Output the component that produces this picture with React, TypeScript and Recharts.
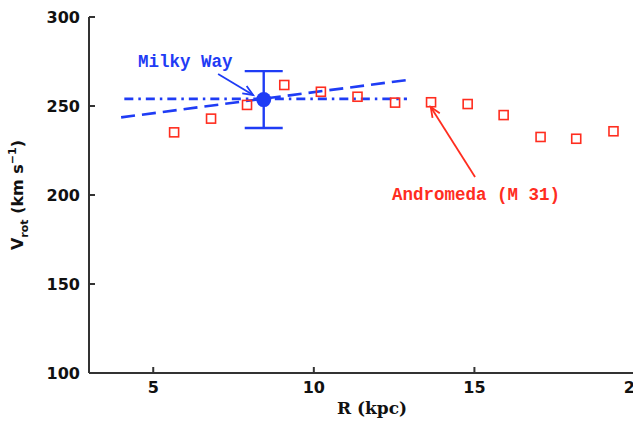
import React from 'react';
import {
  ComposedChart,
  Scatter,
  XAxis,
  YAxis,
  ErrorBar,
  ReferenceLine,
  ReferenceDot,
  Label,
} from 'recharts';

// Andromeda (M 31) rotation curve
const m31R = [5.65, 6.8, 7.92, 9.08, 10.22, 11.36, 12.53, 13.65, 14.79, 15.91, 17.06, 18.17, 19.33];
const m31V = [235.2, 242.9, 250.6, 261.8, 258.0, 255.2, 251.9, 252.1, 251.1, 244.9, 232.6, 231.6, 235.8];

// Milky Way value at the solar circle
const mwR = [8.44];
const mwV = [253.6];
const mwErr = [16];

// model lines
const dashedR = [4.0, 12.9];
const dashedV = [243.6, 264.6];
const dotDashR = [4.1, 12.9];
const dotDashV = [254, 254];

const xTicks = [5, 10, 15, 20];
const yTicks = [100, 150, 200, 250, 300];

const m31Data = m31R.map((x, i) => ({ x, y: m31V[i] }));
const mwData = mwR.map((x, i) => ({ x, y: mwV[i], err: mwErr[i] }));
const dashedData = dashedR.map((x, i) => ({ x, y: dashedV[i] }));
const dotDashData = dotDashR.map((x, i) => ({ x, y: dotDashV[i] }));

const BLUE = '#1f3cf5';
const RED = '#ff2d1f';
const AXIS = '#333';
const tickFont = { fontFamily: 'DejaVu Sans', fontWeight: 'bold', fontSize: 16, fill: '#111' };

const Square = (p: any) => (
  <rect x={p.cx - 4.5} y={p.cy - 4.5} width={9} height={9} fill="none" stroke={RED} strokeWidth={1.6} />
);

const arrow = (color: string) => (p: any) => {
  const { x1, y1, x2, y2 } = p;
  const a = Math.atan2(y2 - y1, x2 - x1);
  const L = 11;
  const s = 0.4;
  return (
    <g stroke={color} strokeWidth={1.8} fill="none">
      <line x1={x1} y1={y1} x2={x2} y2={y2} />
      <polyline
        points={`${x2 - L * Math.cos(a - s)},${y2 - L * Math.sin(a - s)} ${x2},${y2} ${x2 - L * Math.cos(a + s)},${y2 - L * Math.sin(a + s)}`}
      />
    </g>
  );
};

const annot = (text: string, color: string) => (p: any) => (
  <text
    x={p.cx}
    y={p.cy}
    textAnchor="middle"
    dominantBaseline="central"
    fontFamily="Liberation Mono"
    fontWeight="bold"
    fontSize={17.5}
    fill={color}
  >
    {text}
  </text>
);

const YLabel = (props: any) => {
  const vb = props.viewBox;
  const cx = 23;
  const cy = vb.y + 178;
  return (
    <text
      transform={`translate(${cx},${cy}) rotate(-90)`}
      textAnchor="middle"
      fontFamily="DejaVu Sans"
      fontWeight="bold"
      fontSize={16}
      fill="#111"
    >
      V<tspan fontSize={11} dy={5}>rot</tspan>
      <tspan dy={-5}> (km s</tspan>
      <tspan fontSize={11} dy={-7}>−1</tspan>
      <tspan dy={7}>)</tspan>
    </text>
  );
};

const XLabel = (props: any) => {
  const vb = props.viewBox;
  return (
    <text
      x={vb.x + vb.width / 2 + 10}
      y={vb.y + 41}
      textAnchor="middle"
      fontFamily="DejaVu Serif"
      fontWeight="bold"
      fontSize={17}
      fill="#111"
    >
      R (kpc)
    </text>
  );
};

export default function App() {
  return (
    <div style={{ position: 'absolute', left: 0, top: 0, width: 633, height: 422, overflow: 'hidden', background: '#fff' }}>
      <ComposedChart
        width={690}
        height={422}
        margin={{ top: 17, right: 55, bottom: 0, left: 0 }}
      >
        <XAxis
          xAxisId="b"
          type="number"
          dataKey="x"
          domain={[3, 20]}
          ticks={xTicks}
          allowDataOverflow
          height={49}
          stroke={AXIS}
          strokeWidth={2}
          tickSize={-6}
          tickMargin={15}
          tick={tickFont}
        >
          <Label content={XLabel} />
        </XAxis>
        <XAxis
          xAxisId="t"
          orientation="top"
          type="number"
          dataKey="x"
          domain={[3, 20]}
          ticks={xTicks}
          allowDataOverflow
          height={0}
          stroke={AXIS}
          strokeWidth={2}
          mirror
          tickSize={6}
          tickFormatter={() => ''}
        />
        <YAxis
          yAxisId="l"
          type="number"
          dataKey="y"
          domain={[100, 300]}
          ticks={yTicks}
          allowDataOverflow
          width={89}
          stroke={AXIS}
          strokeWidth={2}
          tickSize={-6}
          tickMargin={15}
          tick={tickFont}
        >
          <Label content={YLabel} />
        </YAxis>
        <YAxis
          yAxisId="r"
          orientation="right"
          type="number"
          dataKey="y"
          domain={[100, 300]}
          ticks={yTicks}
          allowDataOverflow
          width={0}
          stroke={AXIS}
          strokeWidth={2}
          mirror
          tickSize={6}
          tickFormatter={() => ''}
        />

        <Scatter
          xAxisId="b"
          yAxisId="l"
          data={dashedData}
          line={{ stroke: BLUE, strokeWidth: 2.6, strokeDasharray: '14 7' }}
          shape={() => <g />}
          isAnimationActive={false}
        />
        <Scatter
          xAxisId="b"
          yAxisId="l"
          data={dotDashData}
          line={{ stroke: BLUE, strokeWidth: 2.6, strokeDasharray: '9 5 2.5 5' }}
          shape={() => <g />}
          isAnimationActive={false}
        />
        <Scatter
          xAxisId="b"
          yAxisId="l"
          data={m31Data}
          shape={Square}
          isAnimationActive={false}
        />
        <Scatter
          xAxisId="b"
          yAxisId="l"
          data={mwData}
          fill={BLUE}
          shape={(p: any) => <circle cx={p.cx} cy={p.cy} r={7.5} fill={BLUE} />}
          isAnimationActive={false}
        >
          <ErrorBar dataKey="err" direction="y" width={19} stroke={BLUE} strokeWidth={2.4} isAnimationActive={false} />
        </Scatter>

        <ReferenceLine
          xAxisId="b"
          yAxisId="l"
          segment={[{ x: 7.02, y: 268 }, { x: 8.11, y: 256.2 }]}
          shape={arrow(BLUE)}
        />
        <ReferenceLine
          xAxisId="b"
          yAxisId="l"
          segment={[{ x: 15.02, y: 210.1 }, { x: 13.64, y: 249.4 }]}
          shape={arrow(RED)}
        />
        <ReferenceDot xAxisId="b" yAxisId="l" x={6.0} y={274.5} r={0} shape={annot('Milky Way', BLUE)} />
        <ReferenceDot xAxisId="b" yAxisId="l" x={15.05} y={200} r={0} shape={annot('Andromeda (M 31)', RED)} />
      </ComposedChart>
    </div>
  );
}
